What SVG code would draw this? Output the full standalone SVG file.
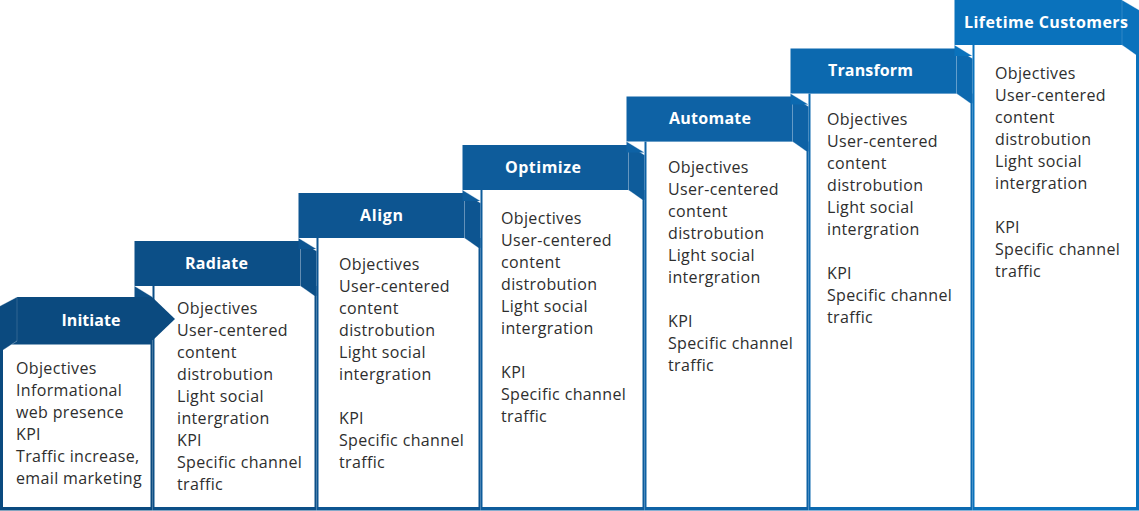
<svg xmlns="http://www.w3.org/2000/svg" width="1139" height="511" viewBox="0 0 1139 511">
  <style>
    .hd { font-family: "Open Sans", "Liberation Sans", sans-serif; font-weight: 700; font-size: 16px; fill: #ffffff; text-anchor: middle; }
    .bd { font-family: "Open Sans", "Liberation Sans", sans-serif; font-size: 16px; letter-spacing: 0.35px; fill: #2e2e2e; }
    .box { fill: #ffffff; }
    .edge { fill: none; stroke: #ffffff; stroke-opacity: 0.35; stroke-width: 1; }
    .seam { fill: none; stroke: #ffffff; stroke-opacity: 0.15; stroke-width: 1; }
    .s1 { fill: #0c4f87; } .s2 { fill: #0d5591; } .s3 { fill: #0e5c9b; }
    .s4 { fill: #0e62a5; } .s5 { fill: #0c69af; } .s6 { fill: #0a72bc; }
    .s0 { fill: #0b4a7f; }
  </style>
  <rect width="1139" height="511" fill="#ffffff"/>

  <!-- Step 2: Radiate -->
  <g id="step-radiate">
    <rect class="s1" x="152.5" y="286" width="164" height="224.5"/>
    <polygon class="box" points="154.5,286 300.5,286 314.5,296 314.5,507 154.5,507"/>
    <polygon class="s1" points="300.5,241 316.5,251 316.5,296 300.5,286"/>
    <polygon class="s1" points="134.5,286 152.5,297 134.5,297"/>
    <rect class="s1" x="134.5" y="241" width="166" height="45"/>
    <path class="edge" d="M300.5,241 L316.5,251 M300.5,286 L314.5,296 M134.5,286 L152.5,297"/>
    <path class="seam" d="M300.5,241 V286"/>
    <text class="hd" x="216.5" y="269" textLength="63">Radiate</text>
    <text class="bd" x="177" y="313.5">Objectives</text>
    <text class="bd" x="177" y="335.5">User-centered</text>
    <text class="bd" x="177" y="357.5">content</text>
    <text class="bd" x="177" y="379.5">distrobution</text>
    <text class="bd" x="177" y="401.5">Light social</text>
    <text class="bd" x="177" y="423.5">intergration</text>
    <text class="bd" x="177" y="445.5">KPI</text>
    <text class="bd" x="177" y="467.5">Specific channel</text>
    <text class="bd" x="177" y="489.5">traffic</text>
  </g>

  <!-- Step 3: Align -->
  <g id="step-align">
    <rect class="s2" x="316.5" y="238" width="164" height="272.5"/>
    <polygon class="box" points="318.5,238 464.5,238 478.5,248 478.5,507 318.5,507"/>
    <polygon class="s2" points="464.5,193 480.5,203 480.5,248 464.5,238"/>
    <polygon class="s2" points="298.5,238 316.5,249 298.5,249"/>
    <rect class="s2" x="298.5" y="193" width="166" height="45"/>
    <path class="edge" d="M464.5,193 L480.5,203 M464.5,238 L478.5,248 M298.5,238 L316.5,249"/>
    <path class="seam" d="M464.5,193 V238"/>
    <text class="hd" x="381.5" y="221" textLength="43">Align</text>
    <text class="bd" x="339" y="269.5">Objectives</text>
    <text class="bd" x="339" y="291.5">User-centered</text>
    <text class="bd" x="339" y="313.5">content</text>
    <text class="bd" x="339" y="335.5">distrobution</text>
    <text class="bd" x="339" y="357.5">Light social</text>
    <text class="bd" x="339" y="379.5">intergration</text>
    <text class="bd" x="339" y="423.5">KPI</text>
    <text class="bd" x="339" y="445.5">Specific channel</text>
    <text class="bd" x="339" y="467.5">traffic</text>
  </g>

  <!-- Step 4: Optimize -->
  <g id="step-optimize">
    <rect class="s3" x="480.5" y="190" width="164" height="320.5"/>
    <polygon class="box" points="482.5,190 628.5,190 642.5,200 642.5,507 482.5,507"/>
    <polygon class="s3" points="628.5,145 644.5,155 644.5,200 628.5,190"/>
    <polygon class="s3" points="462.5,190 480.5,201 462.5,201"/>
    <rect class="s3" x="462.5" y="145" width="166" height="45"/>
    <path class="edge" d="M628.5,145 L644.5,155 M628.5,190 L642.5,200 M462.5,190 L480.5,201"/>
    <path class="seam" d="M628.5,145 V190"/>
    <text class="hd" x="543" y="173" textLength="76">Optimize</text>
    <text class="bd" x="501" y="223.5">Objectives</text>
    <text class="bd" x="501" y="245.5">User-centered</text>
    <text class="bd" x="501" y="267.5">content</text>
    <text class="bd" x="501" y="289.5">distrobution</text>
    <text class="bd" x="501" y="311.5">Light social</text>
    <text class="bd" x="501" y="333.5">intergration</text>
    <text class="bd" x="501" y="377.5">KPI</text>
    <text class="bd" x="501" y="399.5">Specific channel</text>
    <text class="bd" x="501" y="421.5">traffic</text>
  </g>

  <!-- Step 5: Automate -->
  <g id="step-automate">
    <rect class="s4" x="644.5" y="141.5" width="164" height="369"/>
    <polygon class="box" points="646.5,141.5 792.5,141.5 806.5,151.5 806.5,507 646.5,507"/>
    <polygon class="s4" points="792.5,96.5 808.5,106.5 808.5,151.5 792.5,141.5"/>
    <polygon class="s4" points="626.5,141.5 644.5,152.5 626.5,152.5"/>
    <rect class="s4" x="626.5" y="96.5" width="166" height="45"/>
    <path class="edge" d="M792.5,96.5 L808.5,106.5 M792.5,141.5 L806.5,151.5 M626.5,141.5 L644.5,152.5"/>
    <path class="seam" d="M792.5,96.5 V141.5"/>
    <text class="hd" x="710" y="123.5" textLength="82">Automate</text>
    <text class="bd" x="668" y="172.5">Objectives</text>
    <text class="bd" x="668" y="194.5">User-centered</text>
    <text class="bd" x="668" y="216.5">content</text>
    <text class="bd" x="668" y="238.5">distrobution</text>
    <text class="bd" x="668" y="260.5">Light social</text>
    <text class="bd" x="668" y="282.5">intergration</text>
    <text class="bd" x="668" y="326.5">KPI</text>
    <text class="bd" x="668" y="348.5">Specific channel</text>
    <text class="bd" x="668" y="370.5">traffic</text>
  </g>

  <!-- Step 6: Transform -->
  <g id="step-transform">
    <rect class="s5" x="808.5" y="93.5" width="164" height="417"/>
    <polygon class="box" points="810.5,93.5 956.5,93.5 970.5,103.5 970.5,507 810.5,507"/>
    <polygon class="s5" points="956.5,48.5 972.5,58.5 972.5,103.5 956.5,93.5"/>
    <polygon class="s5" points="790.5,93.5 808.5,104.5 790.5,104.5"/>
    <rect class="s5" x="790.5" y="48.5" width="166" height="45"/>
    <path class="edge" d="M956.5,48.5 L972.5,58.5 M956.5,93.5 L970.5,103.5 M790.5,93.5 L808.5,104.5"/>
    <path class="seam" d="M956.5,48.5 V93.5"/>
    <text class="hd" x="870.5" y="75.5" textLength="85">Transform</text>
    <text class="bd" x="827" y="124.5">Objectives</text>
    <text class="bd" x="827" y="146.5">User-centered</text>
    <text class="bd" x="827" y="168.5">content</text>
    <text class="bd" x="827" y="190.5">distrobution</text>
    <text class="bd" x="827" y="212.5">Light social</text>
    <text class="bd" x="827" y="234.5">intergration</text>
    <text class="bd" x="827" y="278.5">KPI</text>
    <text class="bd" x="827" y="300.5">Specific channel</text>
    <text class="bd" x="827" y="322.5">traffic</text>
  </g>

  <!-- Step 7: Lifetime Customers -->
  <g id="step-lifetime">
    <rect class="s6" x="972.5" y="45" width="166.5" height="465.5"/>
    <polygon class="box" points="974.5,45 1122,45 1136,55 1136,507 974.5,507"/>
    <polygon class="s6" points="1122,0 1139,10 1139,55 1122,45"/>
    <polygon class="s6" points="954.5,45 972.5,56 954.5,56"/>
    <rect class="s6" x="954.5" y="0" width="167.5" height="45"/>
    <path class="edge" d="M1122,0 L1139,10 M1122,45 L1136,55 M954.5,45 L972.5,56"/>
    <path class="seam" d="M1122,0 V45"/>
    <text class="hd" x="1046" y="28" textLength="164">Lifetime Customers</text>
    <text class="bd" x="995" y="78.5">Objectives</text>
    <text class="bd" x="995" y="100.5">User-centered</text>
    <text class="bd" x="995" y="122.5">content</text>
    <text class="bd" x="995" y="144.5">distrobution</text>
    <text class="bd" x="995" y="166.5">Light social</text>
    <text class="bd" x="995" y="188.5">intergration</text>
    <text class="bd" x="995" y="232.5">KPI</text>
    <text class="bd" x="995" y="254.5">Specific channel</text>
    <text class="bd" x="995" y="276.5">traffic</text>
  </g>

  <!-- Step 1: Initiate (arrow banner drawn over the next column) -->
  <g id="step-initiate">
    <rect class="s0" x="0" y="341" width="152.5" height="169.5"/>
    <polygon class="box" points="3,350 11,344.5 150.5,344.5 150.5,507 3,507"/>
    <polygon class="s0" points="0,306 17,297 17,341 3,350 0,350"/>
    <polygon class="s0" points="17,297 152,297 175,319 152,341 17,341"/>
    <path class="edge" d="M0,306 L17,297 M3,350 L17,341"/>
    <path class="seam" d="M17,297 V341"/>
    <text class="hd" x="91" y="326" textLength="59">Initiate</text>
    <text class="bd" x="16" y="373.5">Objectives</text>
    <text class="bd" x="16" y="395.5">Informational</text>
    <text class="bd" x="16" y="417.5">web presence</text>
    <text class="bd" x="16" y="439.5">KPI</text>
    <text class="bd" x="16" y="461.5">Traffic increase,</text>
    <text class="bd" x="16" y="483.5">email marketing</text>
  </g>
</svg>
